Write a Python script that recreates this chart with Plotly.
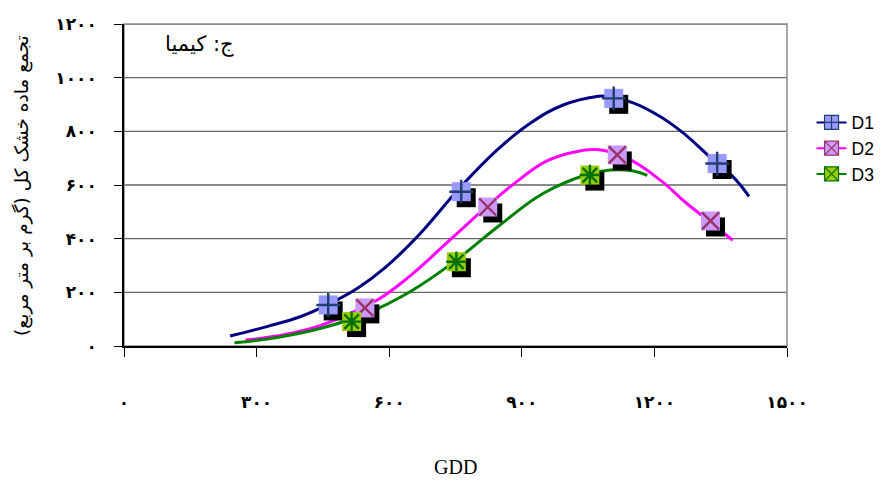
import plotly.graph_objects as go

# Measured dry-matter points per treatment (GDD, g/m2)
d1_gdd = [462, 763, 1108, 1342]
d1_dm = [153, 575, 923, 680]
d2_gdd = [545, 823, 1116, 1327]
d2_dm = [142, 518, 712, 466]
d3_gdd = [515, 752, 1054]
d3_dm = [91, 314, 637]

# Fitted trend curves for each treatment
d1_fit_gdd = [240, 325, 400, 462, 530, 590, 665, 760, 845, 920, 995, 1070, 1090, 1152, 1212, 1265, 1324, 1377, 1414]
d1_fit_dm = [37, 73, 110, 155, 217, 291, 410, 590, 732, 831, 899, 930, 931, 906, 856, 794, 707, 632, 558]
d2_fit_gdd = [275, 365, 440, 515, 575, 642, 732, 822, 882, 957, 1032, 1070, 1137, 1212, 1272, 1324, 1377]
d2_fit_dm = [22, 43, 74, 124, 173, 254, 387, 521, 604, 690, 727, 732, 701, 620, 533, 465, 394]
d3_fit_gdd = [250, 350, 450, 550, 650, 750, 850, 950, 1050, 1100, 1150, 1184]
d3_fit_dm = [12, 33, 68, 122, 205, 318, 450, 570, 640, 656, 653, 636]

x_ticks = [0, 300, 600, 900, 1200, 1500]
y_ticks = [0, 200, 400, 600, 800, 1000, 1200]

series = ["D1", "D2", "D3"]
line_colors = ["#000080", "#FF00FF", "#008000"]
fill_colors = ["#9999FF", "#CC99FF", "#99CC00"]
glyphs = ["cross-thin", "x-thin", "asterisk"]
glyph_colors = ["#1F3F6F", "#993366", "#007000"]

PERSIAN = "۰۱۲۳۴۵۶۷۸۹"


def fa(n):
    return "".join(PERSIAN[int(c)] for c in str(n))


X_RANGE = [0, 1500]
Y_RANGE = [0, 1200]
W, H = 892, 483
M = dict(l=124, r=101, t=24, b=137)
plot_w = W - M["l"] - M["r"]
plot_h = H - M["t"] - M["b"]
# drop-shadow offset for markers, in data units (about 5 px right, 6 px down)
sx = 5 * (X_RANGE[1] - X_RANGE[0]) / plot_w
sy = 6 * (Y_RANGE[1] - Y_RANGE[0]) / plot_h

fig = go.Figure()

fits = [(d1_fit_gdd, d1_fit_dm), (d2_fit_gdd, d2_fit_dm), (d3_fit_gdd, d3_fit_dm)]
points = [(d1_gdd, d1_dm), (d2_gdd, d2_dm), (d3_gdd, d3_dm)]

for i, (fx, fy) in enumerate(fits):
    fig.add_trace(go.Scatter(x=fx, y=fy, mode="lines",
                             line=dict(color=line_colors[i], width=3, shape="spline", smoothing=1.2),
                             showlegend=False, hoverinfo="skip"))

for i, (px, py) in enumerate(points):
    fig.add_trace(go.Scatter(x=[v + sx for v in px], y=[v - sy for v in py], mode="markers",
                             marker=dict(symbol="square", size=19, color="black"),
                             showlegend=False, hoverinfo="skip"))
    fig.add_trace(go.Scatter(x=px, y=py, mode="markers",
                             marker=dict(symbol="square", size=19, color=fill_colors[i], line=dict(width=0)),
                             showlegend=False, hoverinfo="skip"))
    fig.add_trace(go.Scatter(x=px, y=py, mode="markers",
                             marker=dict(symbol=glyphs[i], size=17, color=glyph_colors[i],
                                         line=dict(color=glyph_colors[i], width=2.4)),
                             showlegend=False))

# legend entries
legend_symbols = ["square-cross", "square-x", "square-x"]
for i, name in enumerate(series):
    fig.add_trace(go.Scatter(x=[None], y=[None], mode="lines+markers", name=name,
                             line=dict(color=line_colors[i], width=2),
                             marker=dict(symbol=legend_symbols[i], size=14, color=fill_colors[i],
                                         line=dict(color=glyph_colors[i], width=1.2))))

tick_font = dict(family="DejaVu Sans", size=17, color="black", weight="bold")
axis_common = dict(showgrid=False, zeroline=False, ticks="outside", linecolor="black", linewidth=1.5,
                   tickcolor="black", tickfont=tick_font)

fig.update_xaxes(range=X_RANGE, tickvals=x_ticks, ticktext=[fa(v) for v in x_ticks], ticklen=9,
                 ticklabelstandoff=31, showline=True, **axis_common)
fig.update_yaxes(range=Y_RANGE, tickvals=y_ticks, ticktext=[fa(v) for v in y_ticks], ticklen=8,
                 ticklabelstandoff=14, showline=True, **axis_common)

# horizontal gridlines and plot frame
for v in y_ticks[1:]:
    fig.add_shape(type="line", xref="paper", x0=0, x1=1, yref="y", y0=v, y1=v,
                  line=dict(color="#666666", width=1.3), layer="below")
fig.add_shape(type="rect", xref="paper", yref="paper", x0=0, x1=1, y0=0, y1=1,
              line=dict(color="#8a8a8a", width=1.5), layer="below")

fig.add_annotation(text="ج: کیمیا", xref="paper", yref="paper", x=0.114, y=0.937,
                   xanchor="center", yanchor="middle", showarrow=False,
                   font=dict(family="DejaVu Sans", size=21, color="black"))
fig.add_annotation(text="تجمع ماده خشک کل (گرم بر متر مربع)", xref="paper", yref="paper",
                   x=-0.154, y=0.5, xanchor="center", yanchor="middle", textangle=-90, showarrow=False,
                   font=dict(family="DejaVu Sans", size=18.5, color="black"))
fig.add_annotation(text="GDD", xref="paper", yref="paper", x=0.5, y=-0.377,
                   xanchor="center", yanchor="middle", showarrow=False,
                   font=dict(family="Liberation Serif", size=20, color="black"))

fig.update_layout(
    width=W, height=H, margin=M,
    paper_bgcolor="white", plot_bgcolor="white",
    legend=dict(x=1.037, y=0.75, xanchor="left", yanchor="top", bgcolor="rgba(0,0,0,0)",
                font=dict(family="Liberation Sans", size=17.5, color="black"),
                itemwidth=30, tracegroupgap=0),
)

fig.write_html("out.html")
